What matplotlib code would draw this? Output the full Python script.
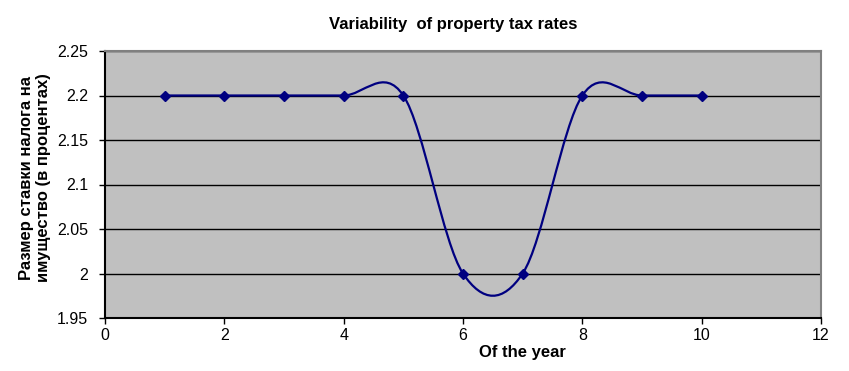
import numpy as np
import matplotlib.pyplot as plt
from matplotlib.path import Path
from matplotlib.patches import PathPatch

plt.rcParams['font.family'] = ['Liberation Sans', 'DejaVu Sans']

years = [1, 2, 3, 4, 5, 6, 7, 8, 9, 10]
rates = [2.2, 2.2, 2.2, 2.2, 2.2, 2.0, 2.0, 2.2, 2.2, 2.2]
y_ticks = [1.95, 2.0, 2.05, 2.1, 2.15, 2.2, 2.25]
y_tick_labels = ['1.95', '2', '2.05', '2.1', '2.15', '2.2', '2.25']
x_ticks = [0, 2, 4, 6, 8, 10, 12]

navy = '#000080'

fig = plt.figure(figsize=(8.49, 3.71), dpi=100)
ax = fig.add_axes([105 / 849, 1 - 318 / 371, (821 - 105) / 849, (318 - 51) / 371])
ax.set_facecolor('#c0c0c0')

# smoothed line like Excel: cubic bezier segments through the points
pts = np.column_stack([years, rates]).astype(float)
n = len(pts)
verts = [tuple(pts[0])]
codes = [Path.MOVETO]
for i in range(n - 1):
    p0 = pts[max(i - 1, 0)]
    p1 = pts[i]
    p2 = pts[i + 1]
    p3 = pts[min(i + 2, n - 1)]
    c1 = p1 + (p2 - p0) / 6
    c2 = p2 - (p3 - p1) / 6
    verts += [tuple(c1), tuple(c2), tuple(p2)]
    codes += [Path.CURVE4] * 3
ax.add_patch(PathPatch(Path(verts, codes), facecolor='none', edgecolor=navy, lw=1.6, zorder=3))
ax.plot(years, rates, linestyle='none', marker='D', markersize=5.5, color=navy, zorder=4)

ax.set_xlim(0, 12)
ax.set_ylim(1.95, 2.25)
ax.set_xticks(x_ticks)
ax.set_yticks(y_ticks)
ax.set_yticklabels(y_tick_labels)
ax.yaxis.grid(True, color='black', lw=1)
ax.set_axisbelow(True)
ax.tick_params(direction='out', length=4, width=1, labelsize=11.5, colors='black', pad=3)
ax.tick_params(axis='y', pad=8)

ax.spines['top'].set_color('#808080')
ax.spines['right'].set_color('#808080')
for s in ax.spines.values():
    s.set_linewidth(1.5)

fig.text(453 / 849, 1 - 25 / 371, 'Variability  of property tax rates', ha='center', va='center',
         fontsize=12, fontweight='bold')
fig.text(522 / 849, 1 - 352 / 371, 'Of the year', ha='center', va='center',
         fontsize=12, fontweight='bold')
fig.text(35 / 849, 1 - 178 / 371, 'Размер ставки налога на\nимущество (в процентах)', ha='center',
         va='center', rotation=90, fontsize=12, fontweight='bold', linespacing=1.15)

plt.savefig('out.png', dpi=100)
